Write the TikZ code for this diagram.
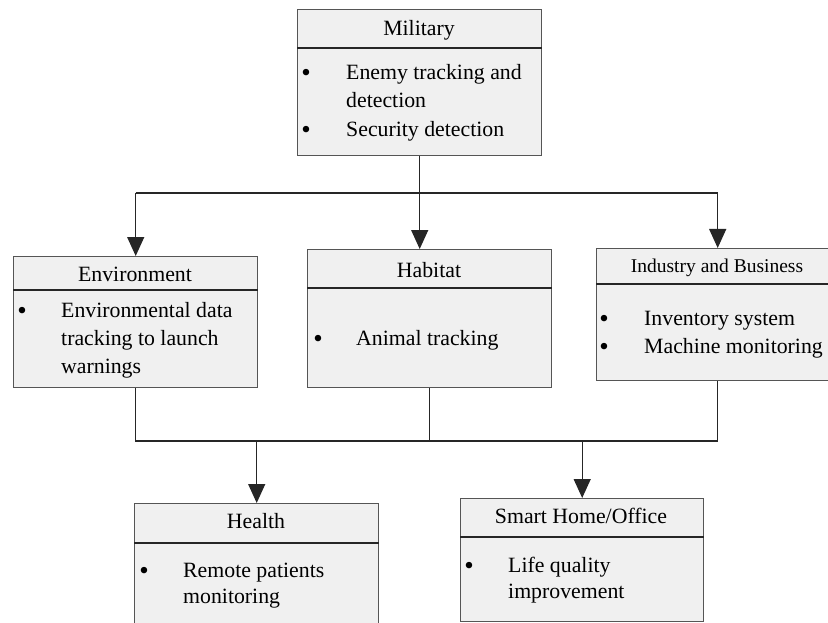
\documentclass[tikz,border=0pt]{standalone}
\usepackage{fontspec}
\setmainfont{Liberation Serif}
\usetikzlibrary{arrows.meta}
\definecolor{boxfill}{RGB}{240,240,240}
\definecolor{boxline}{RGB}{85,85,85}

\begin{document}
\begin{tikzpicture}[x=1pt,y=-1pt,
  box/.style={draw=boxline,fill=boxfill,line width=1.4pt,inner sep=0pt,anchor=north west},
  ttl/.style={anchor=base,inner sep=0pt,font=\fontsize{21.8}{26}\selectfont},
  txt/.style={anchor=base west,inner sep=0pt,font=\fontsize{21.8}{26}\selectfont},
  bul/.style={anchor=base,inner sep=0pt,yshift=-2pt,font=\fontsize{27}{30}\selectfont},
  sep/.style={draw=black!85,line width=1.3pt},
  wire/.style={draw=black!85,line width=1.3pt},
  arr/.style={wire,-{Triangle[length=19pt,width=17pt]}}]
  \useasboundingbox (0,0) rectangle (828,623);
  \clip (0,0) rectangle (828,623);
  \coordinate (topbus) at (0,193);
  \coordinate (lowbus) at (0,441);

  % boxes
  \node[box,minimum width=244pt,minimum height=146pt] (mil) at (297,9) {};
  \node[box,minimum width=244pt,minimum height=131pt] (env) at (13,256) {};
  \node[box,minimum width=244pt,minimum height=138pt] (hab) at (307,249) {};
  \node[box,minimum width=242pt,minimum height=132pt] (ind) at (596,248) {};
  \node[box,minimum width=244pt,minimum height=140pt] (hea) at (134,503) {};
  \node[box,minimum width=243pt,minimum height=123pt] (sma) at (460,498) {};

  % title rules
  \draw[sep] (mil.west |- 0,48) -- (mil.east |- 0,48);
  \draw[sep] (env.west |- 0,290) -- (env.east |- 0,290);
  \draw[sep] (hab.west |- 0,288) -- (hab.east |- 0,288);
  \draw[sep] (ind.west |- 0,284) -- (ind.east |- 0,284);
  \draw[sep] (hea.west |- 0,543) -- (hea.east |- 0,543);
  \draw[sep] (sma.west |- 0,537) -- (sma.east |- 0,537);

  % titles
  \node[ttl] (milT) at (419,36) {Military};
  \node[ttl] (envT) at (135,281) {Environment};
  \node[ttl] (habT) at (429,277) {Habitat};
  \node[ttl,font=\fontsize{19.5}{24}\selectfont] (indT) at (717,272) {Industry and Business};
  \node[ttl] (heaT) at (256,528) {Health};
  \node[ttl] (smaT) at (581,523) {Smart Home/Office};

  % items
  \node[bul] (milB1) at (306,80) {•};
  \node[txt] (milL1) at (346,80) {Enemy tracking and};
  \node[txt] (milL2) at (346,108) {detection};
  \node[bul] (milB2) at (306,137) {•};
  \node[txt] (milL3) at (346,137) {Security detection};

  \node[bul] (envB1) at (22,317) {•};
  \node[txt] (envL1) at (61,317) {Environmental data};
  \node[txt] (envL2) at (61,345) {tracking to launch};
  \node[txt] (envL3) at (61,373) {warnings};

  \node[bul] (habB1) at (318,345) {•};
  \node[txt] (habL1) at (356,345) {Animal tracking};

  \node[bul] (indB1) at (604,325) {•};
  \node[txt] (indL1) at (644,325) {Inventory system};
  \node[bul] (indB2) at (604,353) {•};
  \node[txt] (indL2) at (644,353) {Machine monitoring};

  \node[bul] (heaB1) at (144,577) {•};
  \node[txt] (heaL1) at (183,577) {Remote patients};
  \node[txt] (heaL2) at (183,603) {monitoring};

  \node[bul] (smaB1) at (469,572) {•};
  \node[txt] (smaL1) at (508,572) {Life quality};
  \node[txt] (smaL2) at (508,598) {improvement};

  % connectors
  \draw[wire] (env.north |- topbus) -- (ind.north |- topbus);
  \draw[arr] (mil.south) -- (mil.south |- hab.north);
  \draw[arr] (env.north |- topbus) -- (env.north);
  \draw[arr] (ind.north |- topbus) -- (ind.north);
  \draw[wire] (env.south) -- (env.south |- lowbus) -- (ind.south |- lowbus) -- (ind.south);
  \draw[wire] (hab.south) -- (hab.south |- lowbus);
  \draw[arr] (hea.north |- lowbus) -- (hea.north);
  \draw[arr] (sma.north |- lowbus) -- (sma.north);
\end{tikzpicture}
\end{document}
